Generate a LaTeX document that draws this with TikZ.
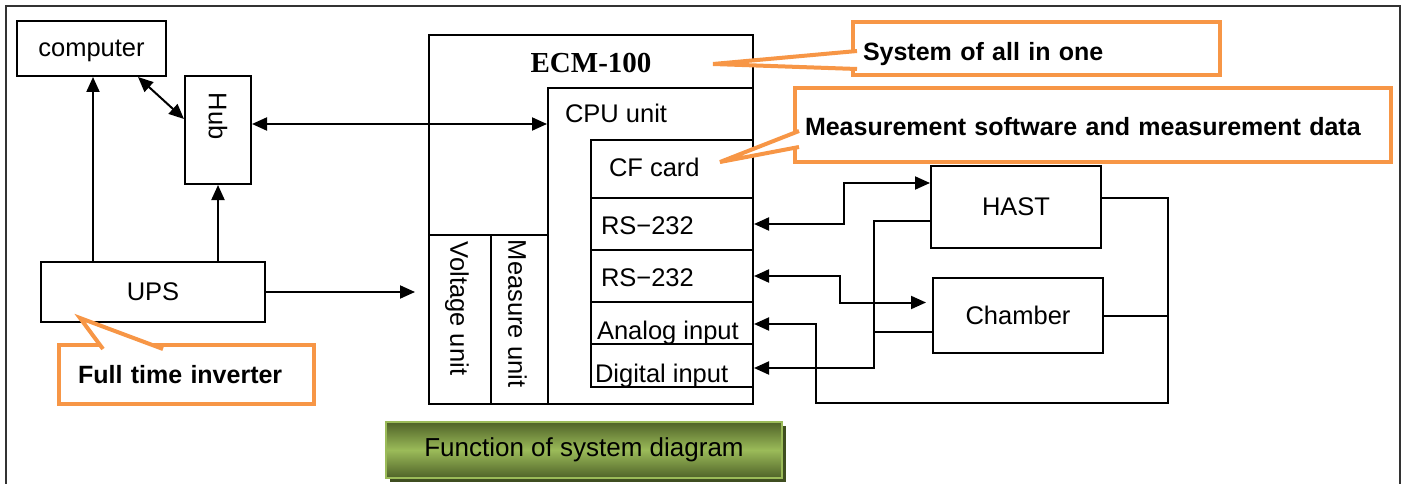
\documentclass[tikz,border=0pt]{standalone}
\usepackage{fontspec}
\setmainfont{Liberation Sans}
\newfontfamily\ecmfont{Liberation Serif}
\usetikzlibrary{arrows.meta}
\usetikzlibrary{positioning}
\usetikzlibrary{shadows}

\definecolor{noteorange}{HTML}{F79646}
\definecolor{titlegreen}{HTML}{9BBB59}
\definecolor{titledark}{HTML}{4F6228}

\begin{document}
\begin{tikzpicture}
	[x=1pt, y=-1pt, line width=2pt,
	> = {Triangle[length=15pt,width=13pt]},
	every node/.style={font=\fontsize{25.5}{30}\selectfont},
	box/.style = {draw, inner sep=0pt},
	lbl/.style = {inner sep=0pt, anchor=west},
	note/.style = {draw=noteorange, line width=4pt, fill=white, outer sep=0pt},
	notetext/.style = {note, font=\fontsize{25}{30}\selectfont\bfseries, align=left, inner ysep=0pt}
	]
	\useasboundingbox (0,0) rectangle (1405,484);
	\draw[line width=2pt, black!80] (6,484) -- (6,6) -- (1400,6) -- (1400,484);

	% pc side
	\node[box, minimum width=149pt, minimum height=55pt, text depth=0pt] (computer) at (91.5,48.5) {computer};
	\node[box, minimum width=66pt, minimum height=108pt] (hub) at (218,130) {};
	\node[rotate=-90, inner sep=0pt] at ([yshift=14pt]hub.center) {Hub};
	\node[box, minimum width=224pt, minimum height=60pt] (ups) at (153,292) {UPS};

	% ECM-100
	\node[box, minimum width=324pt, minimum height=369pt] (ecm) at (591,219.5) {};
	\node[font=\fontsize{29}{32}\selectfont\ecmfont\bfseries, inner sep=0pt] at ([yshift=-29pt]ecm.north) {ECM-100};
	\node[box, minimum width=205pt, minimum height=316pt] (cpu) at (650.5,246) {};
	\node[lbl] at ([xshift=17pt,yshift=-26pt]cpu.north west) {CPU unit};
	\node[box, minimum width=62pt, minimum height=169pt] (volt) at (460,319.5) {};
	\node[box, minimum width=57pt, minimum height=169pt] (meas) at (519.5,319.5) {};
	\node[rotate=-90, inner sep=0pt] at ([xshift=-3pt,yshift=11pt]volt.center) {Voltage unit};
	\node[rotate=-90, inner sep=0pt] at ([xshift=-2pt,yshift=6pt]meas.center) {Measure unit};

	\node[box, minimum width=162pt, minimum height=58pt] (cf) at (672,169) {};
	\node[box, minimum width=162pt, minimum height=52pt] (rsa) at (672,224) {};
	\node[box, minimum width=162pt, minimum height=52pt] (rsb) at (672,276) {};
	\node[box, minimum width=162pt, minimum height=42pt] (ana) at (672,323) {};
	\node[box, minimum width=162pt, minimum height=43pt] (dig) at (672,365.5) {};
	\node[lbl] at ([xshift=18pt,yshift=2pt]cf.west) {CF card};
	\node[lbl] at ([xshift=10pt,yshift=-2pt]rsa.west) {RS−232};
	\node[lbl] at ([xshift=10pt,yshift=-1.5pt]rsb.west) {RS−232};
	\node[lbl] at ([xshift=6pt,yshift=-9.5pt]ana.west) {Analog input};
	\node[lbl] at ([xshift=4pt,yshift=-10pt]dig.west) {Digital input};

	% test chambers
	\node[box, minimum width=170pt, minimum height=82pt] (hast) at (1016,207) {HAST};
	\node[box, minimum width=170pt, minimum height=75pt] (chamber) at (1018,315.5) {Chamber};

	% connections
	\coordinate (upstop) at ([xshift=-60pt]ups.north);
	\draw[->] (upstop) -- (upstop |- computer.south);
	\draw[->] ([xshift=65pt]ups.north) -- (hub.south);
	\draw[<->] ([xshift=-29pt]computer.south east) -- ([yshift=11pt]hub.west);
	\coordinate (hubport) at ([yshift=6pt]hub.east);
	\draw[<->] (hubport) -- (hubport -| cpu.west);
	\coordinate (upsin) at (ups.east -| ecm.west);
	\draw[->] (ups.east) -- ([xshift=-13pt]upsin);

	\draw[<->] (rsa.east) -- ++(90,0) |- ([yshift=24pt]hast.west);
	\draw[<->] (rsb.east) -- ++(86,0) |- ([xshift=-6pt,yshift=13pt]chamber.west);
	\draw[->] ([yshift=-14pt]hast.west) -- ++(-56,0) coordinate (lbus) |- ([yshift=-2.5pt]dig.east);
	\coordinate (chin) at ([yshift=-16.5pt]chamber.west);
	\draw (chin) -- (chin -| lbus);
	\draw[->] ([yshift=9pt]hast.east) -- ++(66,0) coordinate (rbus) |- ++(-352,205) |- ([yshift=-1pt]ana.east);
	\draw (chamber.east) -- (chamber.east -| rbus);

	% callouts
	\node[notetext, minimum height=53pt, text width=347pt, inner xsep=10pt, text height=26pt, text depth=2pt] (sysnote) at (1036.5,48.5) {System of all in one};
	\coordinate (sysptr) at (713,64);
	\draw[note] ([xshift=4pt,yshift=-2.5pt]sysnote.west) -- (sysptr) -- ([xshift=4pt,yshift=-20.5pt]sysnote.west);

	\node[notetext, minimum height=74pt, text width=576pt, inner xsep=10pt, text height=24pt, text depth=3pt] (measnote) at (1093,125) {Measurement software and measurement data};
	\coordinate (measptr) at (720,162);
	\draw[note] ([xshift=4pt,yshift=-6pt]measnote.west) -- (measptr) -- ([xshift=4pt,yshift=-22pt]measnote.west);

	\node[notetext, minimum height=59pt, text width=217pt, inner xsep=19pt] (invnote) at (186.5,374.5) {Full time inverter};
	\coordinate (invptr) at (80,318);
	\draw[note] ([xshift=-83.5pt,yshift=-4pt]invnote.north) -- (invptr) -- ([xshift=-23.5pt,yshift=-4pt]invnote.north);

	% caption
	\node[draw=titlegreen, line width=2pt, minimum width=396pt, minimum height=56pt,
		top color=titledark, bottom color=titledark, middle color=titlegreen,
		drop shadow={shadow xshift=4pt, shadow yshift=-4pt, fill=titledark!80!black, opacity=1},
		font=\fontsize{26}{30}\selectfont] (title) at (584,450) {Function of system diagram};
\end{tikzpicture}
\end{document}
